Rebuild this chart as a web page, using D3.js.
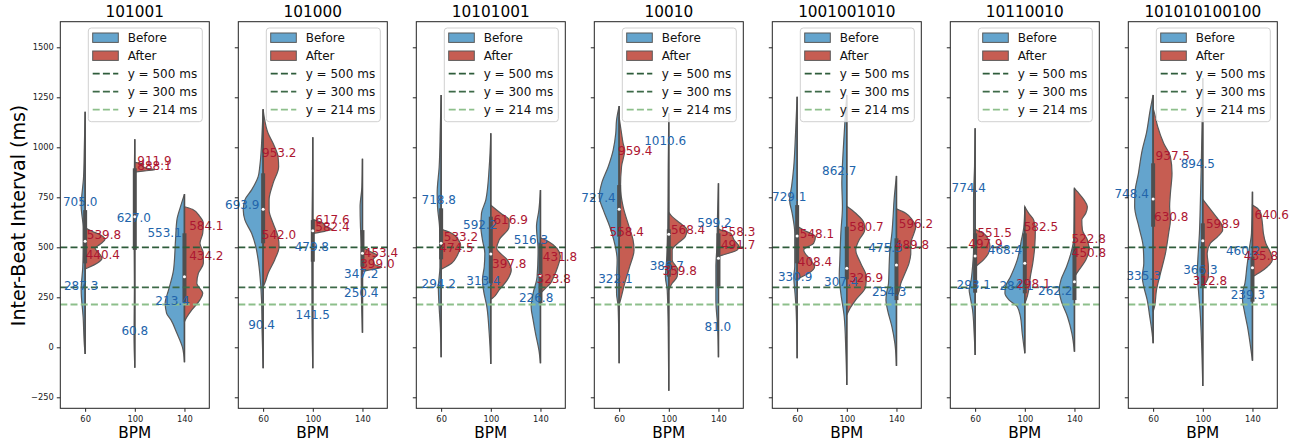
<!DOCTYPE html>
<html>
<head>
<meta charset="utf-8">
<script src="https://cdn.jsdelivr.net/npm/d3@7"></script>
<style>
  body { margin: 0; background: #fff; }
  text { font-family: "DejaVu Sans", sans-serif; }
</style>
</head>
<body>
<div id="chart"></div>
<script>
// panel titles and categories
const titles = ["101001", "101000", "10101001", "10010", "1001001010", "10110010", "101010100100"];
const bpm = ["60", "100", "140"];
const yTicks = [-250, 0, 250, 500, 750, 1000, 1250, 1500];
const refValues = [500, 300, 214];
const refNames = ["y = 500 ms", "y = 300 ms", "y = 214 ms"];

// box stats per panel per bpm: [low, q1, median, q3, high]
const boxStats = [
  [[-33, 420, 530, 686, 1178], [-102, 487, 653, 895, 1040], [-75, 225, 353, 570, 766]],
  [[-105, 520, 690, 870, 1190], [-105, 428, 583, 636, 1050], [73, 403, 470, 586, 943]],
  [[-50, 440, 520, 695, 1262], [-83, 320, 466, 653, 1070], [-80, 220, 360, 520, 786]],
  [[-80, 553, 690, 811, 1206], [-217, 353, 565, 590, 1170], [-50, 303, 445, 570, 820]],
  [[-55, 420, 557, 711, 1253], [-189, 340, 395, 603, 1262], [-93, 236, 412, 545, 857]],
  [[-39, 273, 457, 570, 1095], [-30, 270, 420, 570, 703], [-22, 236, 328, 495, 795]],
  [[20, 603, 741, 920, 1262], [-193, 303, 533, 620, 1345], [-67, 228, 398, 453, 778]]
];

// density profiles [ms, relative density]
const beforeShapes = [
  [
    [[1178,0],[1000,0.04],[850,0.08],[705,0.2],[600,0.1],[500,0.1],[400,0.12],[287,0.2],[150,0.1],[0,0.03],[-33,0]],
    [[1040,0],[900,0.02],[627,0.04],[300,0.02],[61,0.04],[-102,0]],
    [[766,0],[703,0.2],[637,0.38],[537,0.45],[387,0.55],[287,0.8],[220,0.97],[170,0.9],[137,0.68],[70,0.38],[0,0.1],[-75,0]]
  ],
  [
    [[1190,0],[1100,0.04],[903,0.17],[853,0.25],[787,0.58],[737,0.92],[687,1.0],[637,0.92],[570,0.58],[503,0.37],[437,0.25],[370,0.17],[237,0.08],[70,0.05],[-105,0]],
    [[1050,0],[800,0.02],[480,0.05],[141,0.04],[-105,0]],
    [[943,0],[800,0.03],[703,0.12],[600,0.1],[500,0.05],[347,0.06],[250,0.05],[73,0]]
  ],
  [
    [[1262,0],[1100,0.04],[900,0.1],[770,0.2],[700,0.18],[600,0.08],[500,0.06],[400,0.06],[300,0.14],[200,0.1],[100,0.04],[-50,0]],
    [[1070,0],[900,0.08],[737,0.25],[670,0.47],[603,0.5],[537,0.42],[470,0.3],[403,0.33],[337,0.42],[287,0.37],[203,0.2],[70,0.08],[-83,0]],
    [[786,0],[686,0.08],[603,0.2],[487,0.12],[353,0.17],[270,0.37],[203,0.47],[137,0.37],[70,0.25],[-13,0.08],[-80,0]]
  ],
  [
    [[1206,0],[1136,0.13],[1070,0.17],[986,0.3],[903,0.55],[820,0.88],[753,1.0],[687,0.8],[603,0.47],[537,0.27],[437,0.1],[337,0.13],[270,0.13],[203,0.05],[-80,0]],
    [[1170,0],[900,0.03],[600,0.05],[420,0.12],[353,0.17],[287,0.08],[100,0.03],[-217,0]],
    [[820,0],[650,0.05],[500,0.08],[403,0.13],[236,0.13],[100,0.04],[-50,0]]
  ],
  [
    [[1253,0],[1070,0.08],[903,0.17],[803,0.28],[737,0.38],[670,0.25],[570,0.12],[403,0.12],[353,0.17],[287,0.12],[187,0.05],[-55,0]],
    [[1262,0],[1153,0.08],[986,0.18],[820,0.25],[703,0.22],[570,0.3],[437,0.35],[353,0.38],[270,0.3],[153,0.13],[-13,0.05],[-189,0]],
    [[857,0],[737,0.12],[653,0.17],[570,0.23],[487,0.33],[403,0.37],[320,0.4],[270,0.5],[237,0.53],[187,0.45],[103,0.23],[20,0.08],[-93,0]]
  ],
  [
    [[1095,0],[903,0.03],[737,0.08],[487,0.08],[403,0.13],[337,0.2],[287,0.3],[253,0.25],[187,0.13],[70,0.05],[-39,0]],
    [[703,0],[600,0.05],[537,0.17],[437,0.38],[353,0.72],[303,0.97],[270,1.0],[237,0.8],[203,0.38],[153,0.22],[70,0.13],[-30,0]],
    [[795,0],[550,0.03],[470,0.18],[403,0.4],[337,0.68],[287,0.77],[237,0.68],[153,0.35],[70,0.13],[-22,0]]
  ],
  [
    [[1262,0],[1186,0.15],[1070,0.34],[986,0.55],[870,0.74],[770,0.92],[703,0.93],[603,0.72],[503,0.5],[420,0.47],[353,0.55],[303,0.47],[237,0.3],[153,0.17],[70,0.05],[20,0]],
    [[1345,0],[1100,0.04],[903,0.08],[737,0.12],[570,0.17],[437,0.25],[370,0.28],[287,0.22],[153,0.12],[-13,0.05],[-193,0]],
    [[778,0],[570,0.05],[487,0.17],[403,0.28],[320,0.38],[270,0.5],[237,0.5],[187,0.42],[103,0.25],[20,0.12],[-67,0]]
  ]
];

const afterShapes = [
  [
    [[598,0],[580,0.35],[560,0.8],[540,1.0],[515,0.75],[495,0.5],[470,0.7],[445,0.85],[420,0.6],[400,0.2],[392,0]],
    [[925,0],[915,0.45],[905,0.4],[895,0.6],[888,1.0],[882,0.5],[876,0]],
    [[703,0],[690,0.4],[653,0.78],[620,0.95],[570,0.92],[520,0.78],[470,0.95],[420,0.95],[370,0.7],[320,0.62],[270,0.92],[237,0.78],[187,0.37],[137,0.04],[128,0]]
  ],
  [
    [[1190,0],[1153,0.05],[1070,0.25],[1020,0.5],[953,0.75],[903,0.78],[820,0.5],[737,0.3],[687,0.3],[620,0.5],[553,0.75],[503,0.8],[437,0.58],[370,0.25],[320,0.08],[303,0]],
    [[640,0],[630,0.3],[618,0.55],[605,0.6],[590,0.97],[580,0.6],[570,0.1],[565,0]],
    [[500,0],[480,0.35],[460,0.72],[440,0.55],[415,0.6],[400,0.97],[390,0.5],[380,0]]
  ],
  [
    [[592,0],[588,0.1],[570,0.53],[537,0.87],[511,0.98],[495,0.95],[453,0.78],[420,0.53],[395,0.1],[390,0]],
    [[711,0],[670,0.5],[637,0.92],[603,0.92],[537,0.42],[495,0.3],[437,0.83],[387,1.03],[337,0.83],[287,0.42],[245,0.08],[240,0]],
    [[548,0],[528,0.42],[495,0.83],[453,1.0],[403,0.87],[353,0.67],[320,0.5],[295,0.25],[270,0]]
  ],
  [
    [[1150,0],[1070,0.12],[1020,0.2],[986,0.28],[903,0.12],[803,0.07],[703,0.2],[603,0.5],[537,0.7],[487,0.75],[403,0.53],[320,0.28],[237,0.07],[212,0]],
    [[675,0],[653,0.17],[620,0.58],[586,0.92],[553,0.83],[520,0.45],[487,0.17],[437,0.17],[387,0.45],[353,0.42],[320,0.17],[287,0]],
    [[592,0],[586,0.12],[570,0.62],[537,0.78],[503,1.03],[487,0.95],[461,0.2],[455,0]]
  ],
  [
    [[605,0],[586,0.33],[553,0.92],[520,0.83],[487,0.33],[437,0.67],[403,0.88],[370,0.58],[345,0.1],[337,0]],
    [[705,0],[670,0.45],[620,0.87],[586,0.9],[537,0.62],[487,0.45],[420,0.7],[353,0.98],[303,0.95],[237,0.45],[187,0.12],[162,0]],
    [[692,0],[670,0.47],[636,0.8],[603,0.97],[570,0.88],[520,0.72],[470,0.72],[420,0.63],[370,0.43],[320,0.22],[270,0.1],[253,0]]
  ],
  [
    [[592,0],[586,0.08],[570,0.42],[537,0.67],[503,0.75],[470,0.67],[437,0.42],[405,0.05],[400,0]],
    [[703,0],[670,0.2],[636,0.45],[586,0.53],[503,0.5],[420,0.4],[353,0.28],[287,0.2],[237,0.07],[220,0]],
    [[795,0],[778,0.15],[737,0.48],[703,0.65],[670,0.57],[637,0.37],[586,0.4],[537,0.65],[487,0.73],[437,0.57],[387,0.23],[353,0]]
  ],
  [
    [[1195,0],[1170,0.07],[1103,0.23],[1020,0.53],[953,0.87],[870,0.95],[770,0.87],[703,0.83],[637,0.87],[570,0.78],[470,0.62],[370,0.37],[287,0.17],[203,0.07],[178,0]],
    [[740,0],[703,0.28],[653,0.67],[620,0.92],[586,1.0],[553,0.75],[520,0.38],[470,0.22],[403,0.28],[353,0.28],[311,0.08],[295,0]],
    [[711,0],[695,0.25],[670,0.42],[620,0.5],[570,0.55],[520,0.67],[470,0.92],[437,1.0],[403,0.75],[378,0.42],[353,0]]
  ]
];

// peak annotations [ms, density at which the label sits]
const beforeLabels = [
  [[[705.0,0.25],[287.3,0.2]], [[627.0,0.05],[60.8,0]], [[553.1,1.0],[213.4,0.6]]],
  [[[693.9,1.05],[90.4,0.08]], [[479.8,0.05],[141.5,0]], [[347.2,0.06],[250.4,0.06]]],
  [[[718.8,0.12],[294.2,0.12]], [[592.2,0.53],[313.4,0.37]], [[516.3,0.48],[226.8,0.22]]],
  [[[727.4,1.04],[322.1,0.19]], [[1010.6,0.18],[386.7,0.1]], [[599.2,0.2],[81.0,0.03]]],
  [[[729.1,0.4],[330.9,0.1]], [[862.7,0.38],[307.4,0.28]], [[475.3,0.55],[254.3,0.37]]],
  [[[774.4,0.32],[293.1,0.07]], [[468.4,1.0],[284.1,0.41]], [[262.2,0.97]]],
  [[[748.4,1.08],[335.3,0.48]], [[894.5,0.25],[366.3,0.12]], [[460.2,0.47],[239.3,0.23]]]
];
const afterLabels = [
  [[[539.8,0.95],[440.4,0.89]], [[911.9,0.99],[888.1,0.99]], [[584.1,1.1],[434.2,1.1]]],
  [[[953.2,0.81],[542.0,0.8]], [[617.6,0.99],[582.4,0.99]], [[453.4,0.93],[399.0,0.75]]],
  [[[533.2,1.0],[474.5,0.77]], [[616.9,1.0],[397.8,0.93]], [[431.8,0.98],[323.8,0.67]]],
  [[[959.4,0.81],[558.4,0.38]], [[568.4,0.97],[359.8,0.55]], [[558.3,0.99],[491.7,0.99]]],
  [[[548.1,1.0],[408.4,0.9]], [[580.7,0.99],[326.9,0.97]], [[596.2,0.98],[489.8,0.78]]],
  [[[551.5,0.98],[497.9,0.52]], [[582.5,0.81],[298.1,0.43]], [[522.8,0.72],[450.8,0.73]]],
  [[[937.5,0.99],[630.8,0.91]], [[598.9,1.02],[312.8,0.36]], [[640.6,0.97],[435.8,0.43]]]
];

const blueFill = "#64a4cd", redFill = "#c65d52";
const blueText = "#2264ab", redText = "#ad1631";
const refColors = ["#2e5c3b", "#3d6a48", "#8dbf8b"];
const edge = "#595959";

const svg = d3.select("#chart").append("svg")
  .attr("width", 1302).attr("height", 445);

const y = d3.scaleLinear().domain([-305, 1628]).range([408.3, 21.7]);
const panelW = 149;

titles.forEach((title, i) => {
  const left = 60.3 + i * 178;
  const right = left + panelW;
  const x = d3.scalePoint().domain(bpm).range([left, right]).padding(0.5);
  const w = d3.scaleLinear().domain([0, 1]).range([0, x.step() * 0.4]);
  const g = svg.append("g");

  // violins
  bpm.forEach((b, j) => {
    const cx = x(b);
    const leftArea = d3.area()
      .y(d => y(d[0])).x0(cx).x1(d => cx - w(d[1]))
      .curve(d3.curveMonotoneY);
    const rightArea = d3.area()
      .y(d => y(d[0])).x0(cx).x1(d => cx + w(d[1]))
      .curve(d3.curveMonotoneY);
    g.append("path").attr("d", leftArea(beforeShapes[i][j]))
      .attr("fill", blueFill).attr("stroke", edge).attr("stroke-width", 1.2);
    g.append("path").attr("d", rightArea(afterShapes[i][j]))
      .attr("fill", redFill).attr("stroke", edge).attr("stroke-width", 1.2);

    // inner box
    const s = boxStats[i][j];
    g.append("line").attr("x1", cx).attr("x2", cx)
      .attr("y1", y(s[0])).attr("y2", y(s[4]))
      .attr("stroke", "#4f4f4f").attr("stroke-width", 1.5);
    g.append("line").attr("x1", cx).attr("x2", cx)
      .attr("y1", y(s[1])).attr("y2", y(s[3]))
      .attr("stroke", "#4f4f4f").attr("stroke-width", 4);
    g.append("circle").attr("cx", cx).attr("cy", y(s[2])).attr("r", 1.5)
      .attr("fill", "#fff");
  });

  // reference lines
  refValues.forEach((v, k) => {
    g.append("line").attr("x1", left).attr("x2", right)
      .attr("y1", y(v)).attr("y2", y(v))
      .attr("stroke", refColors[k]).attr("stroke-width", 1.8)
      .attr("stroke-dasharray", "7,3.2");
  });

  // peak labels
  bpm.forEach((b, j) => {
    const cx = x(b);
    beforeLabels[i][j].forEach(d => {
      g.append("text").attr("x", cx - w(d[1])).attr("y", y(d[0]))
        .attr("text-anchor", "middle").attr("font-size", 12)
        .attr("fill", blueText).text(d[0].toFixed(1));
    });
    afterLabels[i][j].forEach(d => {
      g.append("text").attr("x", cx + w(d[1])).attr("y", y(d[0]))
        .attr("text-anchor", "middle").attr("font-size", 12)
        .attr("fill", redText).text(d[0].toFixed(1));
    });
  });

  // axes
  const yAxis = d3.axisLeft(y).tickValues(yTicks).tickSizeOuter(0).tickSize(3.5)
    .tickFormat(i === 0 ? (d => d < 0 ? "\u2212" + Math.abs(d) : d) : "");
  const ya = g.append("g").attr("transform", `translate(${left},0)`).call(yAxis);
  const xa = g.append("g").attr("transform", "translate(0,408.3)")
    .call(d3.axisBottom(x).tickSize(3.5).tickSizeOuter(0));
  [ya, xa].forEach(a => {
    a.select(".domain").remove();
    a.selectAll("line").attr("stroke", "#222");
    a.selectAll("text").attr("font-size", 8.3).attr("fill", "#222")
      .style("font-family", "DejaVu Sans");
  });
  xa.selectAll("text").attr("dy", "0.9em");

  g.append("rect").attr("x", left).attr("y", 21.7)
    .attr("width", panelW).attr("height", 408.3 - 21.7)
    .attr("fill", "none").attr("stroke", "#222").attr("stroke-width", 1);

  // title and x label
  g.append("text").attr("x", (left + right) / 2).attr("y", 16.7)
    .attr("text-anchor", "middle").attr("font-size", 15.3).text(title);
  g.append("text").attr("x", (left + right) / 2).attr("y", 438.3)
    .attr("text-anchor", "middle").attr("font-size", 15.3).text("BPM");

  // legend
  const lg = g.append("g").attr("transform", `translate(${left + 28},28)`);
  lg.append("rect").attr("width", 114).attr("height", 93.7).attr("rx", 3)
    .attr("fill", "#fff").attr("fill-opacity", 0.8)
    .attr("stroke", "#d0d0d0").attr("stroke-width", 1);
  const items = [
    { name: "Before", type: "patch", color: blueFill },
    { name: "After", type: "patch", color: redFill }
  ].concat(refNames.map((n, k) => ({ name: n, type: "line", color: refColors[k] })));
  items.forEach((it, k) => {
    const cy = 9.7 + k * 18;
    if (it.type === "patch") {
      lg.append("rect").attr("x", 4.4).attr("y", cy - 4.7)
        .attr("width", 25.6).attr("height", 9.4)
        .attr("fill", it.color).attr("stroke", edge).attr("stroke-width", 1);
    } else {
      lg.append("line").attr("x1", 4.4).attr("x2", 30).attr("y1", cy).attr("y2", cy)
        .attr("stroke", it.color).attr("stroke-width", 1.8)
        .attr("stroke-dasharray", "7,3.2");
    }
    lg.append("text").attr("x", 39.4).attr("y", cy).attr("dy", "0.36em")
      .attr("font-size", 12).attr("fill", "#111").text(it.name);
  });
});

svg.append("text")
  .attr("transform", "translate(24.5,215.5) rotate(-90)")
  .attr("text-anchor", "middle").attr("font-size", 19)
  .text("Inter-Beat Interval (ms)");
</script>
</body>
</html>
